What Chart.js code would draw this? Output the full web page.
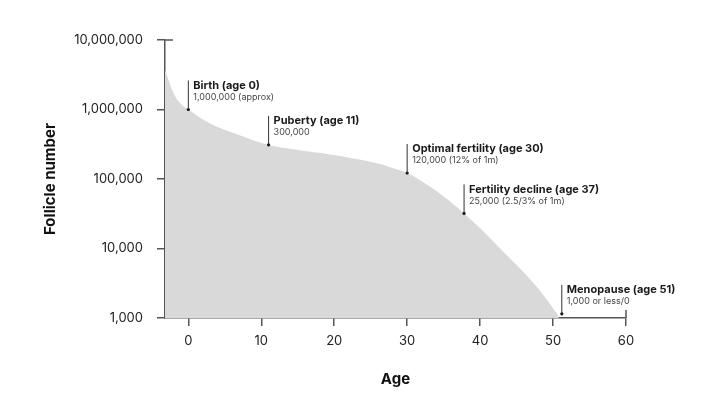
<!DOCTYPE html>
<html>
<head>
<meta charset="utf-8">
<script src="https://cdn.jsdelivr.net/npm/chart.js@4.4.0/dist/chart.umd.min.js"></script>
<style>
  html, body { margin: 0; padding: 0; background: #fff; }
  #wrap { width: 720px; height: 405px; }
</style>
</head>
<body>
<div id="wrap"><canvas id="follicleChart"></canvas></div>
<script>
// Curve (age in years, follicle count)
const curveAges = [-3.2, -2, -1.1, 0, 3, 7.5, 11, 15, 19, 23, 26, 28, 30, 33.2, 35.4, 37.8, 40, 42.5, 47.3, 50.5, 50.8];
const curveCounts = [3700000, 1700000, 1230000, 1000000, 630000, 410000, 310000, 261000, 229000, 194000, 167000, 144000, 122000, 77000, 52000, 32000, 19500, 10600, 3200, 1170, 1000];

// Annotated milestones
const markerAges = [0, 11, 30, 37.8, 51.2];
const markerCounts = [1000000, 310000, 122000, 32000, 1150];
const markerTitles = ['Birth (age 0)', 'Puberty (age 11)', 'Optimal fertility (age 30)', 'Fertility decline (age 37)', 'Menopause (age 51)'];
const markerNotes = ['1,000,000 (approx)', '300,000', '120,000 (12% of 1m)', '25,000 (2.5/3% of 1m)', '1,000 or less/0'];

// Axis ticks
const xTicks = [0, 10, 20, 30, 40, 50, 60];
const yTicks = [1000, 10000, 100000, 1000000, 10000000];

const FONT = 'Inter, "Noto Sans", sans-serif';
const AXIS = '#555';

// leader lines + labels for the milestones
const labelPlugin = {
    id: 'milestones',
    afterDatasetsDraw(chart) {
        const { ctx, scales: { x, y } } = chart;
        ctx.save();
        markerAges.forEach((age, i) => {
            const px = x.getPixelForValue(age);
            const py = y.getPixelForValue(markerCounts[i]);
            ctx.strokeStyle = '#333';
            ctx.lineWidth = 1;
            ctx.beginPath();
            ctx.moveTo(px, py);
            ctx.lineTo(px, py - 29);
            ctx.stroke();
            ctx.textBaseline = 'middle';
            ctx.textAlign = 'left';
            ctx.fillStyle = '#1a1a1a';
            ctx.font = 'bold 11px ' + FONT;
            ctx.fillText(markerTitles[i], px + 5, py - 24);
            ctx.fillStyle = '#444';
            ctx.font = '9px ' + FONT;
            ctx.fillText(markerNotes[i], px + 5, py - 12.5);
        });
        ctx.restore();
    }
};

// end caps on the axes (top of y, right end of x)
const capPlugin = {
    id: 'caps',
    afterDraw(chart) {
        const { ctx, chartArea, scales: { x, y } } = chart;
        ctx.save();
        ctx.strokeStyle = AXIS;
        ctx.lineWidth = 1.5;
        const topY = y.getPixelForValue(yTicks[yTicks.length - 1]);
        ctx.beginPath();
        ctx.moveTo(chartArea.left, topY);
        ctx.lineTo(chartArea.left + 8, topY);
        const endX = x.getPixelForValue(xTicks[xTicks.length - 1]);
        ctx.moveTo(endX, chartArea.bottom);
        ctx.lineTo(endX, chartArea.bottom - 8);
        ctx.stroke();
        ctx.restore();
    }
};

const ctx = document.getElementById('follicleChart').getContext('2d');

const chart = new Chart(ctx, {
    type: 'line',
    data: {
        datasets: [{
            label: 'Follicles',
            data: curveAges.map((a, i) => ({ x: a, y: curveCounts[i] })),
            backgroundColor: '#d9d9d9',
            borderWidth: 0,
            borderColor: 'rgba(0,0,0,0)',
            fill: 'start',
            pointRadius: 0,
            tension: 0.4,
            order: 2
        }, {
            label: 'Milestones',
            data: markerAges.map((a, i) => ({ x: a, y: markerCounts[i] })),
            showLine: false,
            pointRadius: 1.6,
            pointBackgroundColor: '#111',
            pointBorderWidth: 0,
            order: 1
        }]
    },
    options: {
        responsive: true,
        maintainAspectRatio: false,
        animation: false,
        layout: {
            padding: { top: 40, right: 94, bottom: 0, left: 0 }
        },
        plugins: {
            legend: { display: false },
            tooltip: { enabled: false }
        },
        scales: {
            x: {
                type: 'linear',
                min: -3.2,
                max: 60,
                afterBuildTicks: scale => { scale.ticks = xTicks.map(v => ({ value: v })); },
                afterFit: scale => { scale.height = 87; },
                grid: {
                    drawOnChartArea: false,
                    tickLength: 8,
                    color: AXIS,
                    lineWidth: 1.5
                },
                border: { color: AXIS, width: 1.5 },
                ticks: {
                    color: '#222',
                    padding: 7,
                    maxRotation: 0,
                    font: { family: FONT, size: 13 }
                },
                title: {
                    display: true,
                    text: 'Age',
                    color: '#111',
                    padding: { top: 0, bottom: 17 },
                    font: { family: FONT, size: 15, weight: 'bold' }
                }
            },
            y: {
                type: 'logarithmic',
                min: 1000,
                max: 10000000,
                afterBuildTicks: scale => { scale.ticks = yTicks.map(v => ({ value: v })); },
                afterFit: scale => { scale.width = 165; },
                grid: {
                    drawOnChartArea: false,
                    tickLength: 8,
                    color: AXIS,
                    lineWidth: 1.5
                },
                border: { color: AXIS, width: 1.5 },
                ticks: {
                    color: '#222',
                    padding: 14,
                    font: { family: FONT, size: 13 },
                    callback: v => Number(v).toLocaleString('en-US')
                },
                title: {
                    display: true,
                    text: 'Follicle number',
                    color: '#111',
                    padding: { top: 41, bottom: 0 },
                    font: { family: FONT, size: 15, weight: 'bold' }
                }
            }
        }
    },
    plugins: [labelPlugin, capPlugin]
});
</script>
</body>
</html>
